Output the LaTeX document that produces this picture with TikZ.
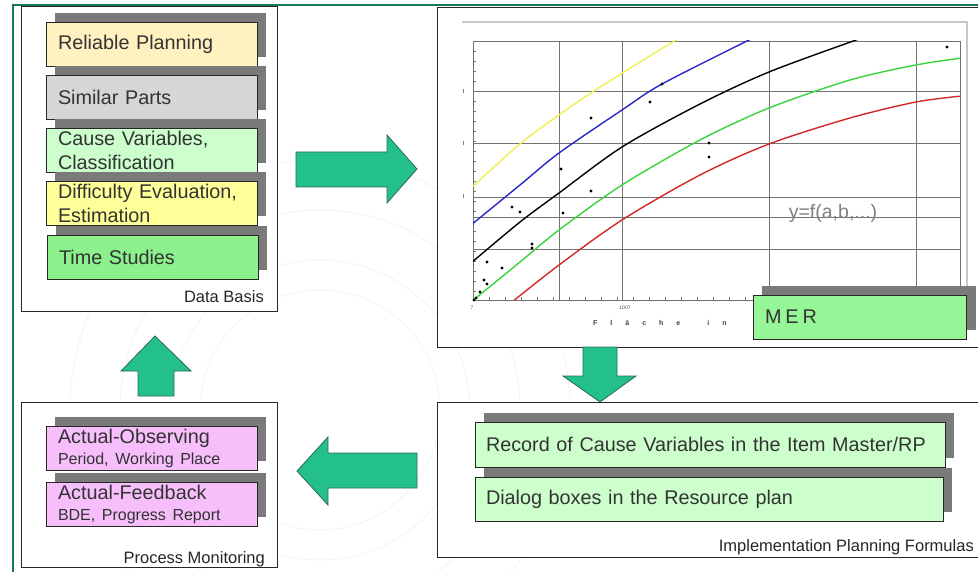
\documentclass[tikz,border=0pt]{standalone}
\usepackage{fontspec}
\setmainfont{Liberation Sans}
\usetikzlibrary{shadows}

\definecolor{framegreen}{RGB}{20,120,90}
\definecolor{arrowfill}{RGB}{36,192,140}
\definecolor{arrowedge}{RGB}{45,105,85}
\definecolor{cTan}{RGB}{255,241,192}
\definecolor{cGray}{RGB}{214,214,214}
\definecolor{cPale}{RGB}{204,255,204}
\definecolor{cYellow}{RGB}{255,255,153}
\definecolor{cGreen}{RGB}{140,240,140}
\definecolor{cPink}{RGB}{246,190,250}
\definecolor{cMer}{RGB}{150,245,150}
\definecolor{cvYellow}{RGB}{240,240,80}
\definecolor{cvBlue}{RGB}{40,40,200}
\definecolor{cvGreen}{RGB}{60,210,60}
\definecolor{cvRed}{RGB}{210,40,40}

\newcommand\itemfont{\fontsize{19.8}{24}\selectfont}
\newcommand\subfont{\fontsize{16}{22}\selectfont}
\newcommand\labelfont{\fontsize{16.5}{19}\selectfont}

\begin{document}
\begin{tikzpicture}[x=1pt,y=-1pt,
  container/.style={draw=black!85,line width=0.8pt,fill=white},
  itembox/.style={draw=black!85,line width=0.9pt,inner xsep=12pt,inner ysep=0pt,
    minimum height=44pt,text width=#1,align=left,font=\itemfont,text=black!80,
    drop shadow={shadow xshift=9pt,shadow yshift=9pt,fill=black!52,opacity=1}},
  itembox/.default=187pt,
  caption/.style={font=\labelfont,text=black!85,inner sep=0pt,anchor=east},
  bigarrow/.style={fill=arrowfill,draw=arrowedge,line width=0.8pt,line join=miter},
  grid line/.style={draw=black!55,line width=0.7pt},
  curve/.style={line width=1.4pt,smooth},
  dot/.style={circle,fill=black,inner sep=0pt,minimum size=3.2pt}
]
\useasboundingbox (0,0) rectangle (978,572);
\fill[white] (0,0) rectangle (978,572);

% faint watermark dial in the background
\begin{scope}[black!4,line width=1pt]
  \draw (320,410) circle (120);
  \draw (320,410) circle (150);
  \draw (320,410) circle (200);
  \draw (320,410) circle (250);
\end{scope}

% outer frame
\draw[framegreen,line width=1.6pt] (13,600) -- (13,5) -- (990,5);

% ---------------- Data Basis ----------------
\draw[container] (21,6) rectangle (277,311);
\node[itembox,fill=cTan]    (rp) at (151.5,44)  {Reliable Planning};
\node[itembox,fill=cGray]   (sp) at (151.5,97)  {Similar Parts};
\node[itembox,fill=cPale]   (cv) at (151.5,150) {Cause Variables,\\Classification};
\node[itembox,fill=cYellow] (de) at (151.5,203.5) {Difficulty Evaluation,\\Estimation};
\node[itembox,fill=cGreen]  (ts) at (152.5,257) {Time Studies};
\node[caption] (dbl) at (264,297) {Data Basis};

% ---------------- Process Monitoring ----------------
\draw[container] (21,402) rectangle (277,567);
\node[itembox,fill=cPink] (ao) at (151.5,448)
  {Actual-Observing\\[-3pt]\subfont Period, Working Place};
\node[itembox,fill=cPink] (af) at (151.5,504)
  {Actual-Feedback\\[-3pt]\subfont BDE, Progress Report};
\node[caption] (pml) at (265,559) {Process Monitoring};

% ---------------- Implementation ----------------
\draw[container] (437,402) rectangle (995,557);
\node[itembox=448pt,fill=cPale,inner xsep=11pt,minimum height=45pt] (rec) at (710,444.5)
  {Record of Cause Variables in the Item Master/RP};
\node[itembox=446pt,fill=cPale,inner xsep=11pt] (dlg) at (709,499)
  {Dialog boxes in the Resource plan};
\node[caption] (ipl) at (974,547) {Implementation Planning Formulas};

% ---------------- Chart ----------------
\draw[container] (437,7) rectangle (995,347);
\draw[black!22,line width=1.6pt] (462,22) -- (967,22) -- (967,290);
\draw[black!55,line width=0.8pt] (473,41) rectangle (960,300);
\foreach \gx in {559,622,769,916} \draw[grid line] (\gx,41) -- (\gx,300);
\foreach \gy in {91,143,197,217,249} \draw[grid line] (473,\gy) -- (960,\gy);
% axis ticks
\foreach \ty in {51,61,...,291} \draw[black!55,line width=0.5pt] (473,\ty) -- (476,\ty);
\foreach \tx in {489,505,...,957} \draw[black!55,line width=0.5pt] (\tx,300) -- (\tx,297);
\foreach \ty in {91,143,196} \draw[black!50,line width=0.6pt] (463,\ty-2) -- (463,\ty+2);
\node[font=\fontsize{5}{6}\selectfont,text=black!70,inner sep=0pt] (x0) at (472,308) {7};
\node[font=\fontsize{5}{6}\selectfont,text=black!70,inner sep=0pt] (x1) at (625,308) {1007};
\node[font=\bfseries\fontsize{7}{8}\selectfont,text=black!75,inner sep=0pt,anchor=west] (xl) at (593,323)
  {F\hspace{13pt}l\hspace{13pt}ä\hspace{13pt}c\hspace{13pt}h\hspace{13pt}e\hspace{27pt}i\hspace{13pt}n};

\begin{scope}
  \clip (473,41) rectangle (960,300);
  \draw[curve,cvYellow] plot coordinates {(471,188) (521,143) (559,115) (591,93) (640,62) (676,40) (690,32)};
  \draw[curve,cvBlue] plot coordinates {(471,225) (520,185) (559,153) (622,110) (662,84) (749,40) (760,35)};
  \draw[curve,black] plot coordinates {(471,263) (520,222) (559,193) (622,147) (700,104) (769,72) (856,40) (870,35)};
  \draw[curve,cvGreen] plot coordinates {(471,302) (520,262) (559,230) (622,185) (700,140) (769,108) (850,80) (916,65) (962,58)};
  \draw[curve,cvRed] plot coordinates {(512,302) (559,265) (622,220) (700,175) (769,144) (850,118) (916,102) (962,96)};
\end{scope}

\foreach \px/\py [count=\i] in {947/47,662/84,650/102,591/118,709/143,709/157,561/169,591/191,
  512/207,520/212,563/213,532/244,532/248,487/262,502/268,484/280,487/284,480/292,476/298,474/300}
  \node[dot] (pt\i) at (\px,\py) {};

\node[font=\fontsize{19.5}{22}\selectfont,text=black!50,inner sep=0pt] (fx) at (833,213) {y=f(a,b,...)};

\node[itembox=189pt,fill=cMer,minimum height=44pt,
  drop shadow={shadow xshift=10pt,shadow yshift=9pt,fill=black!52,opacity=1}] (mer) at (859.5,317)
  {M\hspace{4pt}E\hspace{4pt}R};

% ---------------- Flow arrows ----------------
\path[bigarrow] (296,152) -- (387,152) -- (387,135) -- (417,169) -- (387,203) -- (387,187) -- (296,187) -- cycle;
\path[bigarrow] (583,347) -- (617,347) -- (617,376) -- (636,376) -- (600,402) -- (563,376) -- (583,376) -- cycle;
\path[bigarrow] (417,453) -- (328,453) -- (328,437) -- (297,471) -- (328,505) -- (328,488) -- (417,488) -- cycle;
\path[bigarrow] (138,396) -- (138,371) -- (121,371) -- (155,336) -- (191,371) -- (174,371) -- (174,396) -- cycle;
\end{tikzpicture}
\end{document}
